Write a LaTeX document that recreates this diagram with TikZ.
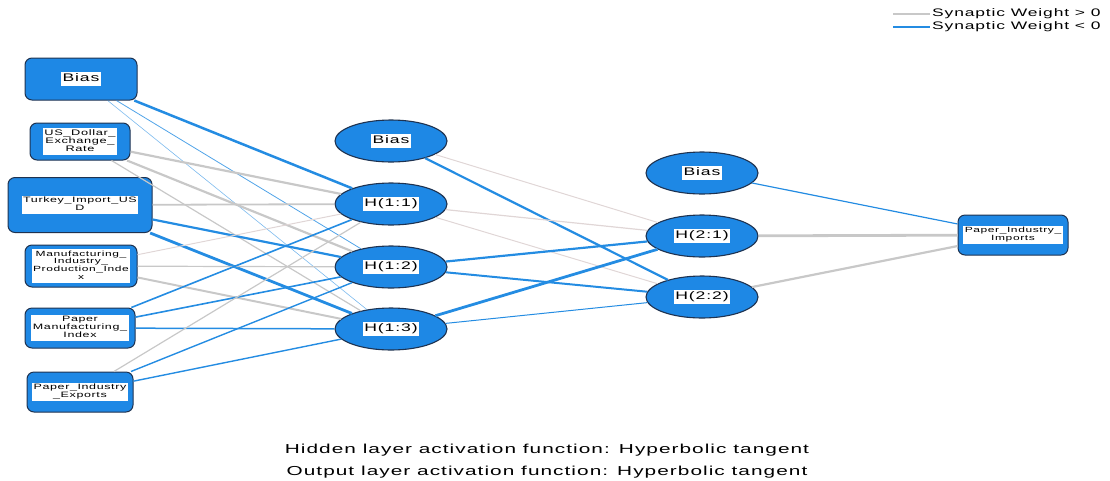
\documentclass[tikz,border=0pt]{standalone}
\usepackage{fontspec}
\setmainfont{Liberation Sans}[FakeStretch=1.6,LetterSpace=8]
\usetikzlibrary{shapes.geometric}
\definecolor{nnblue}{RGB}{30,136,229}
\definecolor{nnedge}{RGB}{36,140,226}
\definecolor{nnborder}{RGB}{30,50,80}
\definecolor{nngray}{RGB}{200,200,200}
\definecolor{nnpale}{RGB}{224,214,214}
\newcommand\nnlbl[2]{\setlength{\fboxsep}{1.5pt}\colorbox{white}{\fontsize{#1}{#1}\selectfont\begin{tabular}{@{}c@{}}#2\end{tabular}}}
\tikzset{
  inbox/.style={rectangle,rounded corners=7pt,fill=nnblue,draw=nnborder,line width=1pt,inner sep=0pt},
  hid/.style={ellipse,fill=nnblue,draw=nnborder,line width=1.1pt,inner sep=0pt,minimum width=112pt,minimum height=42pt},
  posw/.style={draw=nngray},
  palew/.style={draw=nnpale},
  negw/.style={draw=nnedge},
  txt/.style={inner sep=0pt,font=\fontsize{13}{13}\selectfont}
}
\begin{document}
\begin{tikzpicture}[x=1pt,y=-1pt]
\useasboundingbox (0,0) rectangle (1110,480);
% input layer
\node[inbox,minimum width=112pt,minimum height=42pt] (ib) at (81,79) {\nnlbl{11}{Bias}};
\node[inbox,minimum width=100pt,minimum height=37pt] (i1) at (80,141.5) {\nnlbl{8}{US\_Dollar\_\\Exchange\_\\Rate}};
\node[inbox,minimum width=144pt,minimum height=55pt] (i2) at (80,205) {\nnlbl{7.8}{Turkey\_Import\_US\\D}};
\node[inbox,minimum width=112pt,minimum height=42pt] (i3) at (81,266) {\nnlbl{7.5}{Manufacturing\_\\Industry\_\\Production\_Inde\\x}};
\node[inbox,minimum width=110pt,minimum height=40pt] (i4) at (80,328) {\nnlbl{7.8}{Paper\\Manufacturing\_\\Index}};
\node[inbox,minimum width=106pt,minimum height=40pt] (i5) at (80,392) {\nnlbl{7.8}{Paper\_Industry\\\_Exports}};
% hidden layer 1
\node[hid] (hb1) at (391,141) {\nnlbl{11}{Bias}};
\node[hid] (h11) at (391,204) {\nnlbl{11}{H(1:1)}};
\node[hid] (h12) at (391,267) {\nnlbl{11}{H(1:2)}};
\node[hid] (h13) at (391,329) {\nnlbl{11}{H(1:3)}};
% hidden layer 2
\node[hid] (hb2) at (702,173) {\nnlbl{11}{Bias}};
\node[hid] (h21) at (702,236) {\nnlbl{11}{H(2:1)}};
\node[hid] (h22) at (702,297) {\nnlbl{11}{H(2:2)}};
% output
\node[inbox,minimum width=110pt,minimum height=40pt] (o1) at (1013,235) {\nnlbl{7.5}{Paper\_Industry\_\\Imports}};
% input -> hidden 1
\draw[negw,line width=2.5pt] (ib) -- (h11);
\draw[negw,line width=0.8pt,draw opacity=0.8] (ib) -- (h12);
\draw[negw,line width=0.6pt,draw opacity=0.6] (ib) -- (h13);
\draw[posw,line width=2.2pt] (i1) -- (h11);
\draw[posw,line width=2.2pt] (i1) -- (h12);
\draw[posw,line width=1.2pt] (i1) -- (h13);
\draw[posw,line width=1.8pt] (i2) -- (h11);
\draw[negw,line width=2.2pt] (i2) -- (h12);
\draw[negw,line width=2.8pt] (i2) -- (h13);
\draw[palew,line width=1pt] (i3) -- (h11);
\draw[posw,line width=1.2pt] (i3) -- (h12);
\draw[posw,line width=2pt] (i3) -- (h13);
\draw[negw,line width=1.6pt] (i4) -- (h11);
\draw[negw,line width=1.6pt] (i4) -- (h12);
\draw[negw,line width=1.5pt] (i4) -- (h13);
\draw[posw,line width=1.2pt] (i5) -- (h11);
\draw[negw,line width=1.4pt] (i5) -- (h12);
\draw[negw,line width=1.4pt] (i5) -- (h13);
% hidden 1 -> hidden 2
\draw[palew,line width=1pt] (hb1) -- (h21);
\draw[negw,line width=2.2pt] (hb1) -- (h22);
\draw[palew,line width=1.2pt] (h11) -- (h21);
\draw[palew,line width=1pt] (h11) -- (h22);
\draw[negw,line width=2.2pt] (h12) -- (h21);
\draw[negw,line width=2pt] (h12) -- (h22);
\draw[negw,line width=2.8pt] (h13) -- (h21);
\draw[negw,line width=1pt] (h13) -- (h22);
% hidden 2 -> output
\draw[negw,line width=1.2pt] (hb2) -- (o1);
\draw[posw,line width=2.8pt] (h21) -- (o1);
\draw[posw,line width=2.2pt] (h22) -- (o1);
% legend
\coordinate (lg1a) at (893,14); \coordinate (lg1b) at (930,14);
\coordinate (lg2a) at (893,27); \coordinate (lg2b) at (930,27);
\draw[posw,line width=2.5pt] (lg1a) -- (lg1b);
\draw[negw,line width=2.5pt] (lg2a) -- (lg2b);
\node[txt,anchor=west,font=\fontsize{10.9}{10.9}\selectfont] (lt1) at (932,14) {Synaptic Weight > 0};
\node[txt,anchor=west,font=\fontsize{10.9}{10.9}\selectfont] (lt2) at (932,27) {Synaptic Weight < 0};
% captions
\node[txt] (c1) at (547,450) {Hidden layer activation function: Hyperbolic tangent};
\node[txt] (c2) at (547,472) {Output layer activation function: Hyperbolic tangent};
\end{tikzpicture}
\end{document}
